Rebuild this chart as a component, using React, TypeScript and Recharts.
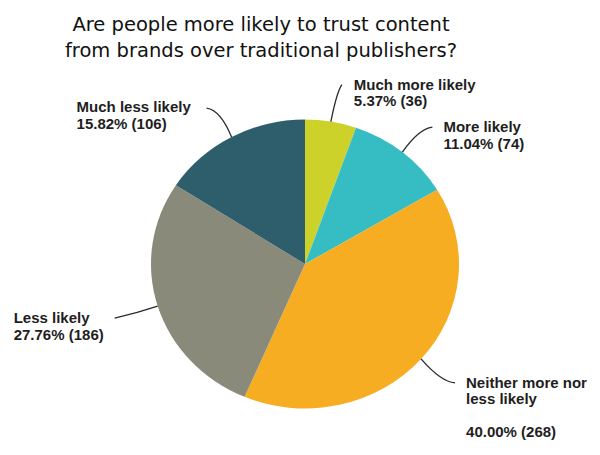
import React from "react";
import { PieChart, Pie, Cell } from "recharts";

const titleLines = [
  "Are people more likely to trust content",
  "from brands over traditional publishers?",
];
const categories = [
  "Much more likely",
  "More likely",
  "Neither more nor less likely",
  "Less likely",
  "Much less likely",
];
const counts = [36, 74, 268, 186, 106];
const labelNameLines = [
  ["Much more likely"],
  ["More likely"],
  ["Neither more nor", "less likely", ""],
  ["Less likely"],
  ["Much less likely"],
];
const colors = ["#CDD22B", "#36BDC3", "#F6AD21", "#8A8A7A", "#2E5E6C"];

const total = counts.reduce((a, b) => a + b, 0);
const data = categories.map((name, i) => ({ name, value: counts[i], idx: i }));

// styling / layout of leader lines & labels (screen offsets from slice edge)
const labelLayout = [
  { end: [11, -37], ctrl: [6, -30], text: [23, -32] },
  { end: [30, -25], ctrl: [16, -23], text: [41, -20] },
  { end: [34, 24], ctrl: [20, 23], text: [45, 29] },
  { end: [-43, 12], ctrl: [-21, 7], text: [-144, 17] },
  { end: [-25, -29], ctrl: [-11, -27], text: [-155, -25] },
];

const SY = 0.938;
const CX = 305;
const CY = 264;
const R = 154;
const LINE_GAP = 16.5;

const renderLabel = (props: any) => {
  const { cx, cy, midAngle, outerRadius } = props;
  const i = props.payload?.idx ?? props.index;
  const lay = labelLayout[i];
  const rad = Math.PI / 180;
  const ex = cx + outerRadius * Math.cos(-midAngle * rad);
  const eyS = cy + outerRadius * Math.sin(-midAngle * rad) * SY;
  const toSvg = (Y: number) => cy + (Y - cy) / SY;
  const endX = ex + lay.end[0];
  const endY = eyS + lay.end[1];
  const cX = ex + lay.ctrl[0];
  const cYs = eyS + lay.ctrl[1];
  const tx = ex + lay.text[0];
  const ty = eyS + lay.text[1];
  const lines = [
    ...labelNameLines[i],
    `${((counts[i] / total) * 100).toFixed(2)}% (${counts[i]})`,
  ];
  return (
    <g key={`lab-${i}`}>
      <path
        d={`M${ex},${toSvg(eyS)} Q${cX},${toSvg(cYs)} ${endX},${toSvg(endY)}`}
        fill="none"
        stroke="#2a2a2a"
        strokeWidth={1.3}
        vectorEffect="non-scaling-stroke"
      />
      <g transform={`translate(${tx},${toSvg(ty)}) scale(1,${1 / SY})`}>
        {lines.map((ln, k) => (
          <text
            key={k}
            x={0}
            y={k * LINE_GAP}
            fill="#1e1e1e"
            fontFamily="'Liberation Sans', Arial, sans-serif"
            fontWeight="bold"
            fontSize={15}
            textAnchor="start"
          >
            {ln}
          </text>
        ))}
      </g>
    </g>
  );
};

export default function App() {
  return (
    <div
      style={{
        position: "fixed",
        left: 0,
        top: 0,
        width: 600,
        height: 455,
        background: "#ffffff",
        overflow: "hidden",
      }}
    >
      <div
        style={{
          position: "absolute",
          left: 0,
          top: 0,
          width: 600,
          height: 455,
          transform: `scaleY(${SY})`,
          transformOrigin: `0px ${CY}px`,
        }}
      >
        <PieChart width={600} height={455} margin={{ top: 0, right: 0, bottom: 0, left: 0 }}>
          <Pie
            data={data}
            dataKey="value"
            nameKey="name"
            cx={CX}
            cy={CY}
            outerRadius={R}
            startAngle={90}
            endAngle={-270}
            stroke="none"
            isAnimationActive={false}
            label={renderLabel}
            labelLine={false}
          >
            {data.map((d, i) => (
              <Cell key={d.name} fill={colors[i]} />
            ))}
          </Pie>
        </PieChart>
      </div>
      <svg
        width={600}
        height={455}
        style={{ position: "absolute", left: 0, top: 0, pointerEvents: "none" }}
      >
        {titleLines.map((t, k) => (
          <text
            key={k}
            x={261}
            y={31 + k * 26}
            textAnchor="middle"
            fontFamily="'DejaVu Sans', Verdana, sans-serif"
            fontSize={19.5}
            fill="#111"
          >
            {t}
          </text>
        ))}
      </svg>
    </div>
  );
}
